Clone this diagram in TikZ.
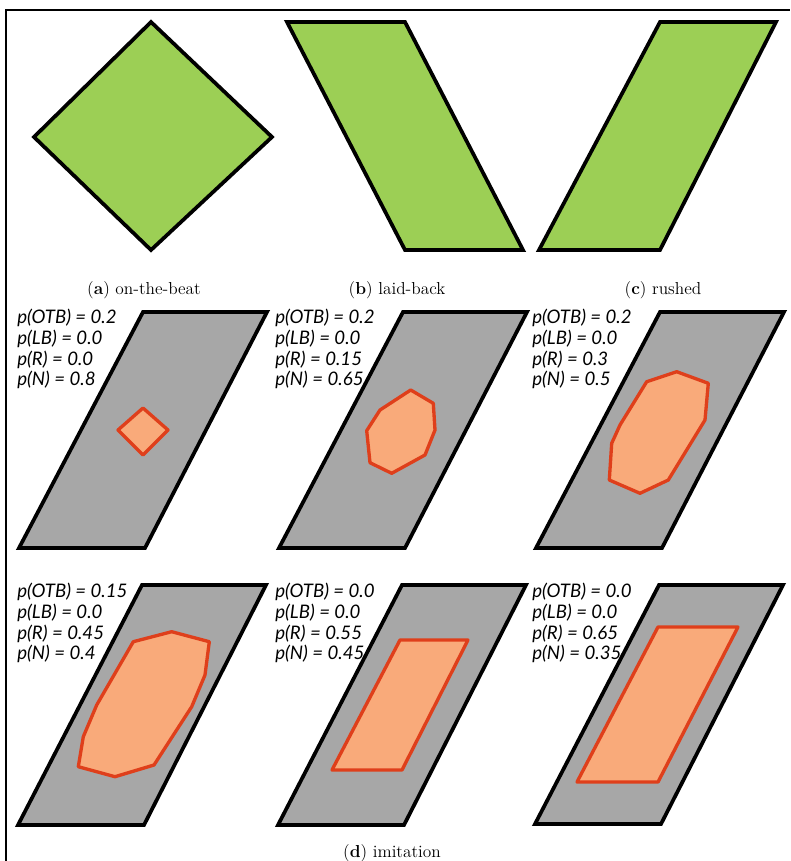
\documentclass[tikz,border=0pt]{standalone}
\usepackage{fontspec}
\usepackage{xcolor}
\usepackage{tikz}
\newfontfamily\probfont{Lato}
\definecolor{rhythmGreen}{HTML}{9CCF55}
\definecolor{zoneGray}{HTML}{A7A7A7}
\definecolor{blobFill}{HTML}{F9AA7A}
\definecolor{blobEdge}{HTML}{DF3F1B}

\begin{document}
\begin{tikzpicture}[x=0.75pt,y=-0.75pt,
  rhythm/.style={draw=black,line width=2.8pt,fill=rhythmGreen},
  zone/.style={draw=black,line width=2.8pt,fill=zoneGray},
  blob/.style={draw=blobEdge,line width=2.5pt,fill=blobFill,line join=round},
  plab/.style={font=\probfont\itshape\fontsize{14}{16}\selectfont,anchor=west,inner sep=0pt},
  subcap/.style={font=\fontsize{13}{15}\selectfont}]
\useasboundingbox (0,0) rectangle (790,861);
% frame
\draw[line width=1.4pt] (6,861) -- (6,10) -- (790,10);
% (a) (b) (c) : the three basic rhythms
\draw[rhythm] (151,22) -- (272,137) -- (151,250) -- (34,137) -- cycle;
\draw[rhythm] (287,22) -- (405,22) -- (523,250) -- (405,250) -- cycle;
\draw[rhythm] (660,22) -- (776,22) -- (660,250) -- (539,250) -- cycle;
\node[subcap] (capa) at (144,290) {(\textbf{a}) on-the-beat};
\node[subcap] (capb) at (397,290) {(\textbf{b}) laid-back};
\node[subcap] (capc) at (663,290) {(\textbf{c}) rushed};
% (d) : imitation panels
\foreach \px/\pb/\pt in {19/548/312, 279/548/312, 536/548/312, 18/825/585, 278/825/585, 535/824/585}
  \draw[zone] (\px,\pb) -- (\px+126,\pb) -- (\px+248,\pt) -- (\px+124,\pt) -- cycle;
\foreach \tx/\ty/\vo/\vl/\vr/\vn [count=\i] in {17/318/0.2/0.0/0.0/0.8, 275/318/0.2/0.0/0.15/0.65,
    532/318/0.2/0.0/0.3/0.5, 17/592/0.15/0.0/0.45/0.4, 275/592/0.0/0.0/0.55/0.45, 532/592/0.0/0.0/0.65/0.35}{
  \node[plab] (otb\i) at (\tx,\ty) {p(OTB) = \vo};
  \node[plab] (lb\i) at (\tx,\ty+20.7) {p(LB) = \vl};
  \node[plab] (r\i) at (\tx,\ty+41.4) {p(R) = \vr};
  \node[plab] (n\i) at (\tx,\ty+62.1) {p(N) = \vn};
}
% imitated regions
\draw[blob] (143,408) -- (168,430) -- (143,455) -- (118,430) -- cycle;
\draw[blob] (410.7,390) -- (433.3,403.3) -- (435,430) -- (425,455) -- (391.7,473.3) -- (370,462.7) -- (366.7,430.7) -- (380,410) -- cycle;
\draw[blob] (646.7,381.7) -- (676.7,371.7) -- (708.3,383.3) -- (705,420) -- (668.3,480) -- (640,493.3) -- (609.3,480) -- (611.7,443.3) -- (620,425) -- cycle;
\draw[blob] (133.3,641.7) -- (171.7,631.7) -- (209.3,641.7) -- (205,675) -- (191.7,706.7) -- (154,765) -- (115,776.7) -- (78.3,766.7) -- (83.3,736.7) -- (96.7,705) -- cycle;
\draw[blob] (400,640) -- (468,640) -- (402,770) -- (332,770) -- cycle;
\draw[blob] (658,627) -- (738,627) -- (658,782) -- (577,782) -- cycle;
\node[subcap] (capd) at (392,853) {(\textbf{d}) imitation};
\end{tikzpicture}
\end{document}
